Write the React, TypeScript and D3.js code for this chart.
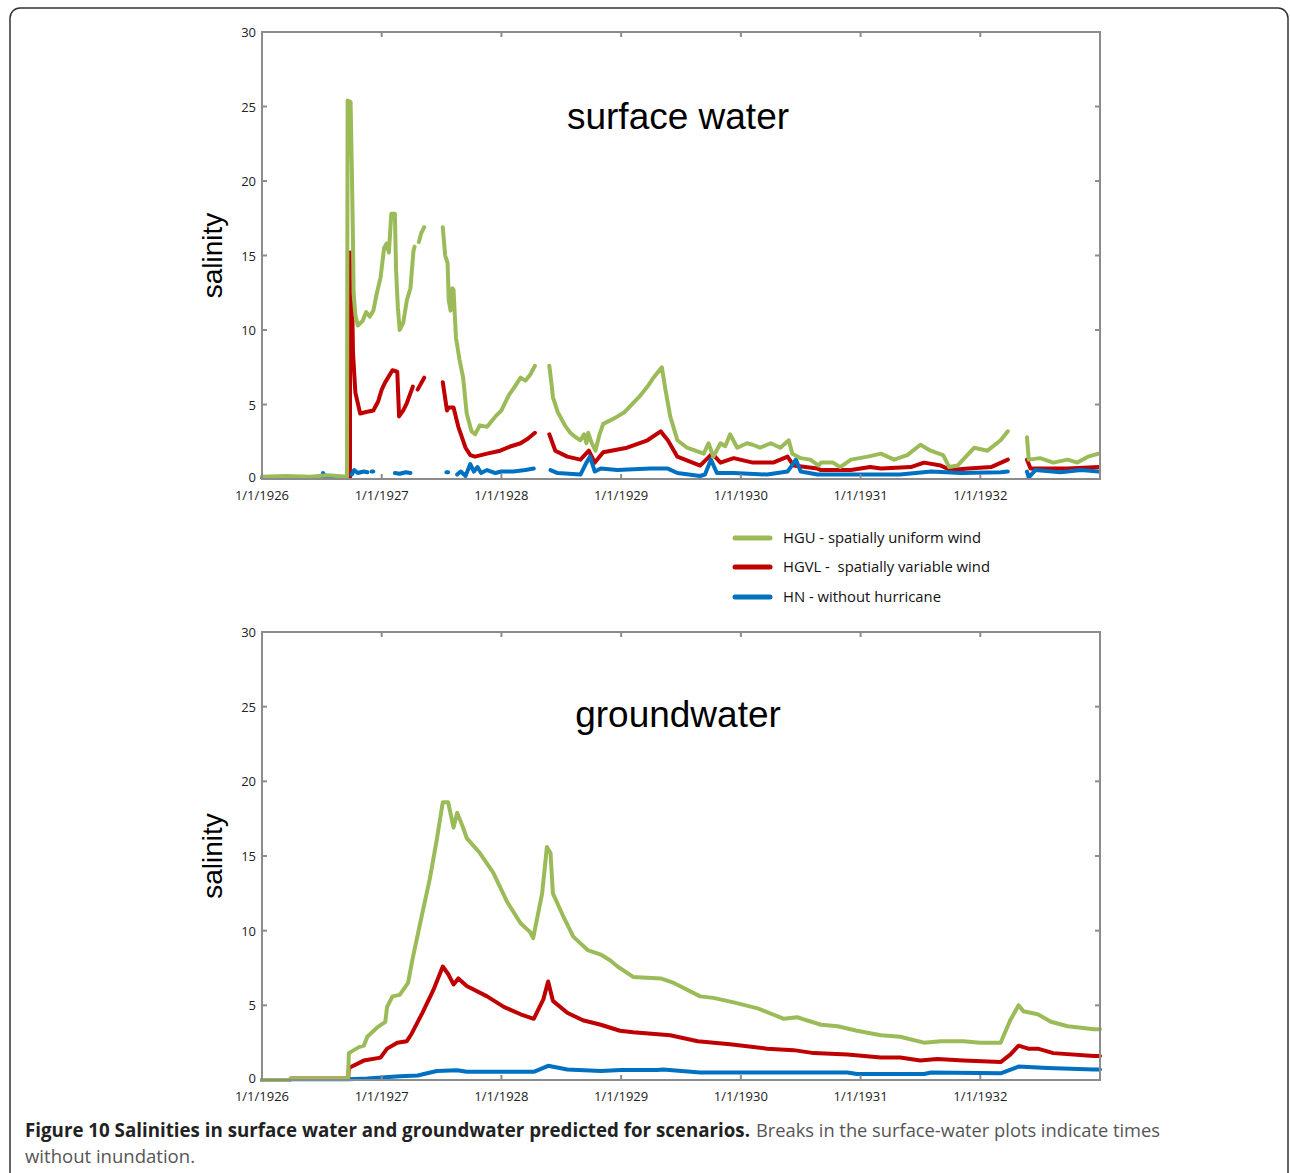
import * as d3 from "d3";

type Pt = [number, number] | null;

// x values are decimal years, y values are salinity
const swHGU: Pt[] = [
  [1926.0, 0.15], [1926.2, 0.2], [1926.4, 0.15], [1926.55, 0.25], [1926.71, 0.15],
  [1926.715, 25.4], [1926.74, 25.3], [1926.75, 21], [1926.76, 16], [1926.765, 12.5], [1926.78, 11],
  [1926.8, 10.3], [1926.84, 10.6], [1926.87, 11.2], [1926.9, 10.9], [1926.93, 11.3], [1926.96, 12.5],
  [1926.99, 13.5], [1927.02, 15.5], [1927.04, 15.8], [1927.06, 15.2], [1927.08, 17.8], [1927.11, 17.8],
  [1927.12, 14], [1927.135, 11.5], [1927.15, 10.0], [1927.18, 10.5], [1927.21, 12.0], [1927.24, 12.8],
  [1927.265, 15.3], [1927.275, 15.6], null,
  [1927.31, 15.9], [1927.33, 16.5], [1927.355, 16.9], null,
  [1927.51, 16.9], [1927.53, 15], [1927.55, 14.5], [1927.56, 12], [1927.575, 11.3], [1927.59, 12.8],
  [1927.6, 12.7], [1927.62, 9.5], [1927.65, 8], [1927.68, 6.8], [1927.71, 4.4], [1927.75, 3.2],
  [1927.78, 3.0], [1927.82, 3.6], [1927.88, 3.5], [1927.95, 4.2], [1928.0, 4.6], [1928.06, 5.6],
  [1928.12, 6.3], [1928.16, 6.8], [1928.2, 6.6], [1928.24, 7.0], [1928.28, 7.6], null,
  [1928.4, 7.6], [1928.42, 6.3], [1928.43, 5.5], [1928.47, 4.5], [1928.49, 4.2], [1928.53, 3.6],
  [1928.575, 3.1], [1928.62, 2.8], [1928.66, 2.6], [1928.69, 3.0], [1928.71, 2.4], [1928.725, 3.1],
  [1928.75, 2.5], [1928.785, 1.9], [1928.82, 3.0], [1928.85, 3.7], [1928.9, 3.9], [1928.97, 4.2],
  [1929.03, 4.5], [1929.1, 5.1], [1929.16, 5.6], [1929.22, 6.2], [1929.27, 6.8], [1929.3, 7.1],
  [1929.34, 7.5], [1929.37, 6.0], [1929.41, 4.2], [1929.47, 2.6], [1929.55, 2.1], [1929.62, 1.9],
  [1929.69, 1.7], [1929.73, 2.4], [1929.77, 1.5], [1929.83, 2.4], [1929.87, 2.2], [1929.91, 3.0],
  [1929.97, 2.1], [1930.05, 2.4], [1930.1, 2.3], [1930.16, 2.1], [1930.25, 2.4], [1930.33, 2.1],
  [1930.4, 2.6], [1930.43, 1.7], [1930.5, 1.4], [1930.58, 1.3], [1930.65, 0.9], [1930.67, 1.1],
  [1930.77, 1.1], [1930.83, 0.8], [1930.92, 1.3], [1931.06, 1.5], [1931.17, 1.7], [1931.28, 1.3],
  [1931.39, 1.6], [1931.5, 2.3], [1931.585, 1.9], [1931.69, 1.6], [1931.74, 0.8], [1931.81, 0.9],
  [1931.95, 2.1], [1932.06, 1.9], [1932.17, 2.6], [1932.23, 3.2], null,
  [1932.39, 2.8], [1932.405, 1.3], [1932.5, 1.4], [1932.61, 1.1], [1932.73, 1.3], [1932.81, 1.1],
  [1932.9, 1.5], [1932.99, 1.7],
];

const swHGVL: Pt[] = [
  [1926.0, 0.1], [1926.71, 0.1], [1926.735, 0.1],
  [1926.736, 15.2], [1926.755, 11], [1926.76, 8.5], [1926.78, 5.8], [1926.82, 4.4], [1926.87, 4.5],
  [1926.93, 4.6], [1926.97, 5.2], [1927.0, 6.0], [1927.03, 6.5], [1927.09, 7.3], [1927.13, 7.2],
  [1927.145, 4.2], [1927.18, 4.6], [1927.21, 5.1], [1927.26, 6.2], null,
  [1927.3, 6.0], [1927.355, 6.8], null,
  [1927.51, 6.5], [1927.545, 4.6], [1927.56, 4.8], [1927.6, 4.8], [1927.64, 3.5], [1927.7, 2.1],
  [1927.74, 1.6], [1927.78, 1.5], [1927.88, 1.7], [1927.99, 1.9], [1928.08, 2.2], [1928.16, 2.4],
  [1928.22, 2.7], [1928.28, 3.1], null,
  [1928.4, 3.0], [1928.45, 1.9], [1928.55, 1.5], [1928.66, 1.3], [1928.73, 1.9], [1928.78, 1.1],
  [1928.85, 1.8], [1929.05, 2.1], [1929.22, 2.6], [1929.33, 3.2], [1929.39, 2.6], [1929.47, 1.5],
  [1929.66, 0.9], [1929.76, 1.7], [1929.83, 1.1], [1929.94, 1.4], [1930.1, 1.1], [1930.27, 1.1],
  [1930.39, 1.5], [1930.44, 0.9], [1930.64, 0.7], [1930.67, 0.6], [1930.92, 0.6], [1931.08, 0.8],
  [1931.17, 0.7], [1931.42, 0.8], [1931.53, 1.1], [1931.67, 0.9], [1931.75, 0.6], [1931.9, 0.7],
  [1932.09, 0.8], [1932.23, 1.3], null,
  [1932.39, 1.3], [1932.42, 0.7], [1932.73, 0.7], [1932.99, 0.8],
];

const swHN: Pt[] = [
  [1926.0, 0.1], [1926.5, 0.15], [1926.51, 0.4], [1926.53, 0.15], [1926.71, 0.1], null,
  [1926.75, 0.3], [1926.77, 0.6], [1926.8, 0.4], [1926.85, 0.5], [1926.88, 0.45], null,
  [1926.915, 0.5], [1926.93, 0.5], null,
  [1927.11, 0.4], [1927.15, 0.35], [1927.2, 0.45], [1927.24, 0.4], null,
  [1927.54, 0.45], [1927.555, 0.45], null,
  [1927.63, 0.3], [1927.66, 0.5], [1927.7, 0.2], [1927.74, 1.0], [1927.77, 0.5], [1927.8, 0.8],
  [1927.83, 0.4], [1927.88, 0.6], [1927.95, 0.4], [1928.0, 0.5], [1928.1, 0.5], [1928.2, 0.6],
  [1928.27, 0.7], null,
  [1928.41, 0.6], [1928.47, 0.4], [1928.66, 0.3], [1928.71, 1.1], [1928.74, 1.5], [1928.78, 0.5],
  [1928.83, 0.7], [1928.97, 0.6], [1929.24, 0.7], [1929.39, 0.7], [1929.47, 0.4], [1929.66, 0.2],
  [1929.7, 0.3], [1929.75, 1.3], [1929.8, 0.4], [1929.94, 0.4], [1930.22, 0.3], [1930.39, 0.5],
  [1930.46, 1.3], [1930.5, 0.5], [1930.64, 0.3], [1930.92, 0.3], [1931.17, 0.3], [1931.33, 0.3],
  [1931.59, 0.5], [1931.84, 0.4], [1932.17, 0.45], [1932.23, 0.5], null,
  [1932.39, 0.5], [1932.405, 0.1], [1932.46, 0.6], [1932.67, 0.45], [1932.84, 0.6], [1932.99, 0.5],
];

const gwHGU: Pt[] = [
  [1926.0, 0], [1926.23, 0], [1926.24, 0.1], [1926.72, 0.1], [1926.725, 1.8], [1926.81, 2.2],
  [1926.85, 2.3], [1926.88, 2.9], [1926.96, 3.5], [1927.03, 3.9], [1927.045, 4.9], [1927.09, 5.6],
  [1927.15, 5.7], [1927.22, 6.5], [1927.26, 8.2], [1927.34, 11.2], [1927.4, 13.4], [1927.46, 16.1],
  [1927.51, 18.6], [1927.555, 18.6], [1927.6, 16.9], [1927.63, 17.9], [1927.68, 16.9], [1927.71, 16.2],
  [1927.82, 15.2], [1927.93, 13.9], [1928.05, 11.9], [1928.16, 10.5], [1928.24, 9.9], [1928.265, 9.5],
  [1928.34, 12.5], [1928.38, 15.6], [1928.41, 15.2], [1928.43, 12.5], [1928.52, 10.9], [1928.6, 9.6],
  [1928.72, 8.7], [1928.83, 8.4], [1928.91, 8.0], [1928.97, 7.6], [1929.1, 6.9], [1929.33, 6.8],
  [1929.44, 6.5], [1929.66, 5.6], [1929.77, 5.5], [1929.94, 5.2], [1930.14, 4.8], [1930.36, 4.1],
  [1930.47, 4.2], [1930.67, 3.7], [1930.81, 3.6], [1930.97, 3.3], [1931.17, 3.0], [1931.33, 2.9],
  [1931.53, 2.5], [1931.67, 2.6], [1931.86, 2.6], [1932.0, 2.5], [1932.17, 2.5], [1932.25, 4.0],
  [1932.32, 5.0], [1932.36, 4.6], [1932.48, 4.4], [1932.59, 3.9], [1932.73, 3.6], [1932.95, 3.4],
  [1933.0, 3.4],
];

const gwHGVL: Pt[] = [
  [1926.0, 0], [1926.23, 0], [1926.24, 0.1], [1926.72, 0.1], [1926.725, 0.8], [1926.85, 1.3],
  [1926.99, 1.5], [1927.045, 2.1], [1927.13, 2.5], [1927.21, 2.6], [1927.25, 3.1], [1927.34, 4.5],
  [1927.43, 6.0], [1927.51, 7.6], [1927.555, 7.1], [1927.6, 6.4], [1927.64, 6.8], [1927.71, 6.3],
  [1927.88, 5.6], [1928.02, 4.9], [1928.16, 4.4], [1928.27, 4.1], [1928.35, 5.4], [1928.39, 6.6],
  [1928.43, 5.3], [1928.55, 4.5], [1928.68, 4.0], [1928.83, 3.7], [1928.99, 3.3], [1929.1, 3.2],
  [1929.41, 3.0], [1929.64, 2.6], [1929.91, 2.4], [1930.22, 2.1], [1930.44, 2.0], [1930.61, 1.8],
  [1930.89, 1.7], [1931.17, 1.5], [1931.33, 1.5], [1931.5, 1.3], [1931.64, 1.4], [1931.86, 1.3],
  [1932.17, 1.2], [1932.25, 1.7], [1932.32, 2.3], [1932.4, 2.1], [1932.48, 2.1], [1932.61, 1.8],
  [1932.95, 1.6], [1933.0, 1.6],
];

const gwHN: Pt[] = [
  [1926.0, 0], [1926.23, 0], [1926.24, 0.05], [1926.72, 0.05], [1926.88, 0.1], [1927.15, 0.25],
  [1927.3, 0.3], [1927.46, 0.6], [1927.63, 0.65], [1927.71, 0.55], [1928.27, 0.55], [1928.39, 0.95],
  [1928.55, 0.7], [1928.83, 0.6], [1929.0, 0.67], [1929.3, 0.67], [1929.35, 0.7], [1929.66, 0.5],
  [1930.89, 0.5], [1930.97, 0.4], [1931.53, 0.4], [1931.59, 0.5], [1932.17, 0.45], [1932.32, 0.9],
  [1932.56, 0.8], [1932.95, 0.7], [1933.0, 0.7],
];

const yearTicks = [1926, 1927, 1928, 1929, 1930, 1931, 1932];
const salinityTicks = [0, 5, 10, 15, 20, 25, 30];
const scenarioLabels = [
  "HGU - spatially uniform wind",
  "HGVL -  spatially variable wind",
  "HN - without hurricane",
];
const scenarioColors = ["#9BBB59", "#C00000", "#0070C0"];

const LEFT = 262;
const RIGHT = 1100;
const AXIS = "#8c8c8c";

function Panel({ top, bottom, title, titleY, series }: {
  top: number; bottom: number; title: string; titleY: number; series: Pt[][];
}) {
  const x = d3.scaleLinear().domain([1926, 1933]).range([LEFT, RIGHT]);
  const y = d3.scaleLinear().domain([0, 30]).range([bottom, top]);
  const line = d3
    .line<Pt>()
    .defined((d) => d !== null)
    .x((d) => x((d as [number, number])[0]))
    .y((d) => y((d as [number, number])[1]));
  // draw order: red, blue, green on top
  const order = [1, 2, 0];
  return (
    <g>
      {order.map((i) => (
        <path key={i} d={line(series[i]) || ""} fill="none" stroke={scenarioColors[i]}
          strokeWidth={4} strokeLinejoin="round" strokeLinecap="round" />
      ))}
      <rect x={LEFT} y={top} width={RIGHT - LEFT} height={bottom - top} fill="none" stroke={AXIS} strokeWidth={2} />
      {yearTicks.slice(1).map((t) => (
        <g key={"xt" + t}>
          <line x1={x(t)} x2={x(t)} y1={bottom} y2={bottom - 5} stroke={AXIS} strokeWidth={2} />
          <line x1={x(t)} x2={x(t)} y1={top} y2={top + 5} stroke={AXIS} strokeWidth={2} />
        </g>
      ))}
      {yearTicks.map((t) => (
        <text key={"xl" + t} x={x(t)} y={bottom + 21} textAnchor="middle" fontSize={13}
          fontFamily="'Open Sans', sans-serif" fill="#222">{`1/1/${t}`}</text>
      ))}
      {salinityTicks.map((t) => (
        <g key={"yt" + t}>
          {t > 0 && t < 30 && (
            <>
              <line x1={LEFT} x2={LEFT + 5} y1={y(t)} y2={y(t)} stroke={AXIS} strokeWidth={2} />
              <line x1={RIGHT} x2={RIGHT - 5} y1={y(t)} y2={y(t)} stroke={AXIS} strokeWidth={2} />
            </>
          )}
          <text x={LEFT - 6} y={y(t) + (t === 0 ? 3 : 5)} textAnchor="end" fontSize={13}
            fontFamily="'Open Sans', sans-serif" fill="#222">{t}</text>
        </g>
      ))}
      <text transform={`translate(222,${(top + bottom) / 2}) rotate(-90)`} textAnchor="middle"
        fontSize={28} fontFamily="'Liberation Sans', Arial, sans-serif" fill="#000">salinity</text>
      <text x={678} y={titleY} textAnchor="middle" fontSize={37}
        fontFamily="'Liberation Sans', Arial, sans-serif" fill="#000">{title}</text>
    </g>
  );
}

export default function App() {
  const legendY = [538, 567, 597];
  return (
    <svg width={1290} height={1173} style={{ position: "absolute", left: 0, top: 0, background: "#fff" }}>
      <rect x={10} y={8} width={1278} height={1200} rx={10} fill="#fff" stroke="#333" strokeWidth={1.5} />
      <Panel top={32} bottom={479} title="surface water" titleY={129} series={[swHGU, swHGVL, swHN]} />
      <Panel top={632} bottom={1080} title="groundwater" titleY={727} series={[gwHGU, gwHGVL, gwHN]} />
      {scenarioLabels.map((s, i) => (
        <g key={s}>
          <line x1={735} x2={770} y1={legendY[i]} y2={legendY[i]} stroke={scenarioColors[i]} strokeWidth={5} strokeLinecap="round" />
          <text x={783} y={legendY[i] + 5} fontSize={15} fontFamily="'Open Sans', sans-serif" fill="#111"
            textLength={i === 1 ? 207 : i === 0 ? 198 : 158} lengthAdjust="spacingAndGlyphs"
            style={{ whiteSpace: "pre" }}>{s}</text>
        </g>
      ))}
      <text x={25} y={1137} fontSize={19} fontFamily="'Open Sans', sans-serif" fontWeight="bold" fill="#222"
        textLength={725} lengthAdjust="spacingAndGlyphs">
        Figure 10 Salinities in surface water and groundwater predicted for scenarios.
      </text>
      <text x={756} y={1137} fontSize={19} fontFamily="'Open Sans', sans-serif" fill="#555"
        textLength={404} lengthAdjust="spacingAndGlyphs">
        Breaks in the surface-water plots indicate times
      </text>
      <text x={25} y={1163} fontSize={19} fontFamily="'Open Sans', sans-serif" fill="#555"
        textLength={170} lengthAdjust="spacingAndGlyphs">
        without inundation.
      </text>
    </svg>
  );
}
